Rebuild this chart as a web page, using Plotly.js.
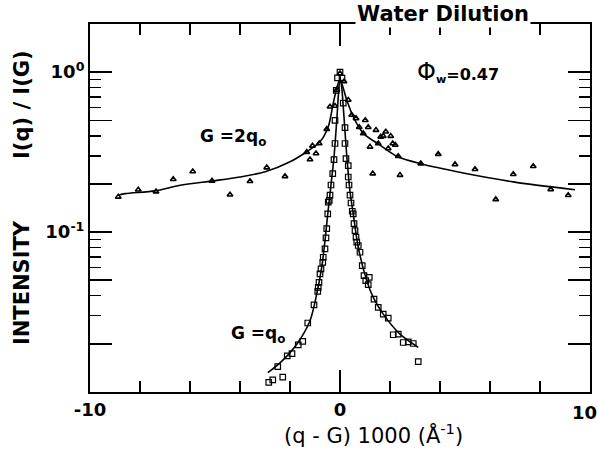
<!DOCTYPE html>
<html>
<head>
<meta charset="utf-8">
<script src="https://cdn.plot.ly/plotly-3.0.1.min.js"></script>
<style>html,body{margin:0;padding:0;background:#fff;}#chart{width:598px;height:450px;}</style>
</head>
<body>
<div id="chart"></div>
<script>
// G = 2q0 data (triangles)
const tri_x = [-8.87,-8.07,-7.36,-6.67,-5.89,-5.12,-4.4,-3.6,-2.93,-2.2,-1.33,-1.2,-0.96,-1.1,-0.83,-0.53,-0.4,-0.2,-0.13,0.0,
  0.16,0.33,0.47,0.64,0.77,0.93,1.01,1.13,1.2,1.31,1.44,1.53,1.63,1.73,1.83,1.93,2.03,2.11,2.21,2.33,2.4,3.23,3.93,4.6,5.4,6.23,6.93,7.73,8.43,9.13];
const tri_y = [0.166,0.184,0.179,0.214,0.239,0.209,0.171,0.208,0.253,0.223,0.316,0.284,0.31,0.346,0.358,0.44,0.608,0.614,0.774,0.98,
  0.873,0.67,0.54,0.514,0.452,0.414,0.5,0.452,0.341,0.232,0.434,0.358,0.394,0.398,0.424,0.333,0.398,0.358,0.35,0.298,0.227,0.268,0.307,0.265,0.247,0.16,0.23,0.258,0.185,0.17];
// G = 2q0 fitted curve
const fit2_x = [-8.87,-8.6,-7.4,-6.4,-5.07,-4.0,-2.99,-2.0,-1.33,-0.8,-0.47,-0.27,-0.13,0.0,0.27,0.53,0.93,1.6,2.27,3.2,4.93,6.93,9.4];
const fit2_y = [0.17,0.174,0.181,0.196,0.209,0.221,0.238,0.275,0.318,0.367,0.456,0.64,0.794,0.9,0.67,0.526,0.414,0.35,0.298,0.268,0.234,0.206,0.184];
// G = q0 data (squares)
const sq_x = [0.0,-0.1,0.08,-0.15,-0.2,-0.2,-0.24,-0.29,-0.36,-0.4,-0.43,-0.47,-0.49,-0.53,-0.56,-0.6,-0.67,-0.69,-0.76,-0.8,-0.84,-0.87,-0.89,-1.04,-1.29,-1.49,-1.67,-1.92,-2.11,-2.49,-2.29,-2.69,-2.85,
  0.13,0.2,0.2,0.24,0.33,0.33,0.36,0.4,0.44,0.49,0.53,0.56,0.6,0.64,0.67,0.73,0.8,0.89,0.96,1.03,1.17,1.13,1.36,1.53,1.73,1.93,2.13,2.33,2.53,2.73,2.93,3.13];
const sq_y = [1.0,0.92,0.917,0.77,0.5,0.358,0.284,0.232,0.197,0.17,0.158,0.154,0.130,0.105,0.092,0.0785,0.0696,0.0647,0.0589,0.0547,0.0484,0.0451,0.0426,0.0351,0.027,0.0207,0.0197,0.0174,0.0168,0.0144,0.0124,0.0119,0.0115,
  0.64,0.45,0.358,0.288,0.26,0.221,0.197,0.17,0.152,0.135,0.130,0.113,0.102,0.0929,0.0864,0.0824,0.0748,0.0617,0.0534,0.0497,0.0521,0.0469,0.0381,0.0338,0.0307,0.029,0.0228,0.023,0.0204,0.0206,0.0201,0.0155];
// G = q0 fitted curve
const fit1_x = [-2.89,-2.4,-1.73,-1.2,-0.93,-0.73,-0.6,-0.49,-0.37,-0.24,-0.13,-0.05,0.0,0.07,0.15,0.27,0.4,0.53,0.73,1.07,1.33,1.73,2.4,3.13];
const fit1_y = [0.0132,0.0152,0.0199,0.0279,0.041,0.0603,0.0886,0.130,0.191,0.295,0.5,0.774,0.93,0.8,0.55,0.3,0.18,0.130,0.0804,0.0497,0.039,0.0307,0.023,0.019];

const x_tickvals = [-10,0,10];
const x_ticktext = ['-10','0',''];
const x_minor = [-8,-6,-4,-2,2,4,6,8];
const y_tickvals = [1,0.5,0.2,0.1,0.05,0.02];
const y_ticktext = ['10<sup>0</sup>','','','10<sup>-1</sup>','',''];
const y_minor = [0.9,0.8,0.7,0.6,0.4,0.3,0.09,0.08,0.07,0.06,0.04,0.03];

const FONT = 'DejaVu Sans, Verdana, sans-serif';

const traces = [
  {x: fit2_x, y: fit2_y, mode: 'lines', line: {color: '#000', width: 1.6, shape: 'spline', smoothing: 0.8}, hoverinfo: 'skip'},
  {x: fit1_x, y: fit1_y, mode: 'lines', line: {color: '#000', width: 1.6, shape: 'spline', smoothing: 0.8}, hoverinfo: 'skip'},
  {x: tri_x, y: tri_y, mode: 'markers', marker: {symbol: 'triangle-up-open', size: 5, color: '#000', line: {width: 1.6, color: '#000'}}},
  {x: sq_x, y: sq_y, mode: 'markers', marker: {symbol: 'square-open', size: 5.5, color: '#000', line: {width: 1.2, color: '#000'}}}
];

const layout = {
  width: 598, height: 450,
  margin: {l: 90, r: 8, t: 24, b: 58},
  paper_bgcolor: '#fff', plot_bgcolor: '#fff',
  showlegend: false,
  font: {family: FONT, color: '#000'},
  xaxis: {
    range: [-10, 10], showgrid: false, zeroline: false,
    showline: true, linecolor: '#000', linewidth: 2, mirror: 'ticks',
    ticks: 'inside', ticklen: 22, tickwidth: 1.5, tickcolor: '#000',
    tickmode: 'array', tickvals: x_tickvals, ticktext: x_ticktext,
    tickfont: {size: 18, family: FONT, weight: 'bold'},
    minor: {tickmode: 'array', tickvals: x_minor, ticks: 'inside', ticklen: 11, tickwidth: 1.5, tickcolor: '#000', showgrid: false}
  },
  yaxis: {
    type: 'log', range: [-2, 0.301], showgrid: false, zeroline: false,
    showline: true, linecolor: '#000', linewidth: 2, mirror: 'ticks',
    ticks: 'inside', ticklen: 22, tickwidth: 1.5, tickcolor: '#000',
    tickmode: 'array', tickvals: y_tickvals, ticktext: y_ticktext,
    tickfont: {size: 18, family: FONT, weight: 'bold'},
    minor: {tickmode: 'array', tickvals: y_minor, ticks: 'inside', ticklen: 11, tickwidth: 1.5, tickcolor: '#000', showgrid: false}
  },
  annotations: [
    {xref: 'x', yref: 'paper', x: 10, y: 0, yshift: -8, text: '<b>10</b>', showarrow: false,
     font: {size: 18, family: FONT}, xanchor: 'center', yanchor: 'top', xshift: -6},
    {xref: 'paper', yref: 'paper', x: 0.566, y: 0, yshift: -42, text: '(q - G) 1000 (Å<sup>-1</sup>)', showarrow: false,
     font: {size: 21, family: FONT}, xanchor: 'center', yanchor: 'middle'},
    {xref: 'paper', yref: 'paper', x: 0.706, y: 1.028, text: '<b>Water Dilution</b>', showarrow: false,
     font: {size: 21, family: FONT}, bgcolor: '#fff', xanchor: 'center', yanchor: 'middle'},
    {xref: 'paper', yref: 'paper', x: -0.136, y: 0.78, text: '<b>I(q) / I(G)</b>', textangle: -90, showarrow: false,
     font: {size: 21, family: FONT}, xanchor: 'center', yanchor: 'middle'},
    {xref: 'paper', yref: 'paper', x: -0.136, y: 0.296, text: '<b>INTENSITY</b>', textangle: -90, showarrow: false,
     font: {size: 21, family: FONT}, xanchor: 'center', yanchor: 'middle'},
    {xref: 'x', yref: 'y', x: -4.3, y: -0.41, text: '<b>G =2q<sub>o</sub></b>', showarrow: false,
     font: {size: 17, family: FONT}, xanchor: 'center', yanchor: 'middle'},
    {xref: 'x', yref: 'y', x: -3.3, y: -1.64, text: '<b>G =q<sub>o</sub></b>', showarrow: false,
     font: {size: 17, family: FONT}, xanchor: 'center', yanchor: 'middle'},
    {xref: 'x', yref: 'y', x: 4.7, y: 0.0, text: '<span style="font-size:24px">Φ</span><sub><b>w</b></sub><b>=0.47</b>', showarrow: false,
     font: {size: 16, family: FONT}, xanchor: 'center', yanchor: 'middle'}
  ]
};

Plotly.newPlot('chart', traces, layout, {displayModeBar: false, staticPlot: true});
</script>
</body>
</html>
